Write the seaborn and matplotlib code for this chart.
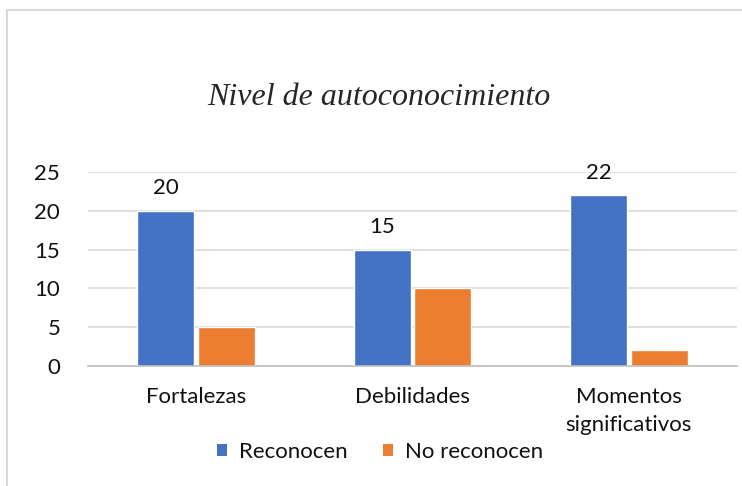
import pandas as pd
import seaborn as sns
from matplotlib import pyplot as plt
from matplotlib.patches import Patch
from matplotlib.lines import Line2D

# Datos
categorias = ["Fortalezas", "Debilidades", "Momentos\nsignificativos"]
reconocen = [20, 15, 22]
no_reconocen = [5, 10, 2]
series = ["Reconocen", "No reconocen"]
colores = ["#4472C4", "#ED7D31"]
yticks = [0, 5, 10, 15, 20, 25]

df = pd.DataFrame({
    "categoria": categorias * 2,
    "valor": reconocen + no_reconocen,
    "serie": [series[0]] * 3 + [series[1]] * 3,
})

sns.set_theme(style="white")
plt.rcParams["font.family"] = ["Lato", "DejaVu Sans"]

fig = plt.figure(figsize=(7.42, 4.86), dpi=100)
ax = fig.add_axes([88 / 742, 1 - 366 / 486, (737 - 88) / 742, (366 - 172) / 486])

sns.barplot(data=df, x="categoria", y="valor", hue="serie", palette=colores,
            width=0.56, gap=0.06, saturation=1, ax=ax, legend=False)

ax.set_ylim(0, 25)
ax.set_xlim(-0.5, 2.5)
ax.set_yticks(yticks)
ax.yaxis.grid(True, color="#D9D9D9", linewidth=1.2)
ax.set_axisbelow(True)
for s in ["top", "right", "left"]:
    ax.spines[s].set_visible(False)
ax.spines["bottom"].set_color("#BFBFBF")
ax.spines["bottom"].set_linewidth(1.2)

ax.set_xlabel("")
ax.set_ylabel("")
ax.tick_params(axis="y", length=0, pad=20, labelsize=16, labelcolor="#111111")
ax.tick_params(axis="x", which="major", length=0, pad=15, labelsize=16, labelcolor="#111111")
for t in ax.get_xticklabels():
    t.set_linespacing(1.5)
ax.set_xticks([-0.5, 0.5, 1.5, 2.5], minor=True)
ax.tick_params(axis="x", which="minor", length=6, width=1.2, color="#BFBFBF", direction="out")

# etiquetas de valor solo en la serie azul
ax.bar_label(ax.containers[0], labels=[str(v) for v in reconocen],
             padding=9, fontsize=16, color="#111111")

fig.suptitle("Nivel de autoconocimiento", x=0.511, y=1 - 97 / 486, fontsize=23,
             fontstyle="italic", family="Liberation Serif", va="center")

handles = [Patch(facecolor=c, edgecolor="none") for c in colores]
fig.legend(handles, series, loc="center", bbox_to_anchor=(0.512, 1 - 452 / 486),
           ncol=2, frameon=False, fontsize=16, handlelength=0.45, handleheight=0.45,
           handletextpad=0.55, columnspacing=1.6, labelcolor="#111111")

# marco del área del gráfico
fig.add_artist(Line2D([7 / 742, 7 / 742], [0, 1 - 10 / 486], color="#D9D9D9", lw=1.5))
fig.add_artist(Line2D([7 / 742, 1], [1 - 10 / 486, 1 - 10 / 486], color="#D9D9D9", lw=1.5))

fig.savefig("out.png", dpi=100)
